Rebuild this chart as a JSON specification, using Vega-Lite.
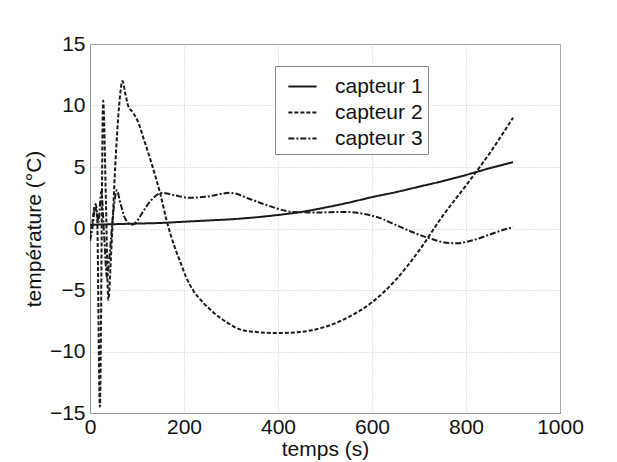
{
  "$schema": "https://vega.github.io/schema/vega-lite/v6.json",
  "width": 470,
  "height": 369,
  "autosize": "none",
  "padding": {"left": 90, "top": 44, "right": 57, "bottom": 49},
  "background": "white",
  "config": {
    "font": "Liberation Sans",
    "view": {"stroke": "#999999", "strokeWidth": 1},
    "axis": {
      "labelFont": "Liberation Sans",
      "titleFont": "Liberation Sans",
      "labelFontSize": 21,
      "titleFontSize": 21,
      "labelColor": "#111111",
      "titleColor": "#111111",
      "titleFontWeight": "normal",
      "domainColor": "#999999",
      "ticks": false,
      "gridColor": "#c8c8c8",
      "gridDash": [1, 2],
      "gridWidth": 1
    }
  },
  "data": {
    "values": [
      {"t": 0, "v": 0.3, "s": "capteur 1"},
      {"t": 50, "v": 0.35, "s": "capteur 1"},
      {"t": 100, "v": 0.4, "s": "capteur 1"},
      {"t": 150, "v": 0.45, "s": "capteur 1"},
      {"t": 200, "v": 0.55, "s": "capteur 1"},
      {"t": 250, "v": 0.65, "s": "capteur 1"},
      {"t": 300, "v": 0.75, "s": "capteur 1"},
      {"t": 350, "v": 0.9, "s": "capteur 1"},
      {"t": 400, "v": 1.1, "s": "capteur 1"},
      {"t": 450, "v": 1.35, "s": "capteur 1"},
      {"t": 500, "v": 1.7, "s": "capteur 1"},
      {"t": 550, "v": 2.1, "s": "capteur 1"},
      {"t": 600, "v": 2.55, "s": "capteur 1"},
      {"t": 650, "v": 2.95, "s": "capteur 1"},
      {"t": 700, "v": 3.4, "s": "capteur 1"},
      {"t": 750, "v": 3.85, "s": "capteur 1"},
      {"t": 800, "v": 4.35, "s": "capteur 1"},
      {"t": 850, "v": 4.9, "s": "capteur 1"},
      {"t": 900, "v": 5.4, "s": "capteur 1"},

      {"t": 0, "v": -0.5, "s": "capteur 2"},
      {"t": 5, "v": 0.5, "s": "capteur 2"},
      {"t": 10, "v": 1.8, "s": "capteur 2"},
      {"t": 15, "v": 1.0, "s": "capteur 2"},
      {"t": 21, "v": -14.5, "s": "capteur 2"},
      {"t": 28, "v": 10.4, "s": "capteur 2"},
      {"t": 34, "v": 2, "s": "capteur 2"},
      {"t": 39, "v": -5.8, "s": "capteur 2"},
      {"t": 45, "v": -2, "s": "capteur 2"},
      {"t": 55, "v": 6, "s": "capteur 2"},
      {"t": 62, "v": 10, "s": "capteur 2"},
      {"t": 69, "v": 12, "s": "capteur 2"},
      {"t": 75, "v": 11.0, "s": "capteur 2"},
      {"t": 81, "v": 10.0, "s": "capteur 2"},
      {"t": 92, "v": 9.4, "s": "capteur 2"},
      {"t": 102, "v": 8.7, "s": "capteur 2"},
      {"t": 115, "v": 7.2, "s": "capteur 2"},
      {"t": 131, "v": 5.3, "s": "capteur 2"},
      {"t": 149, "v": 2.9, "s": "capteur 2"},
      {"t": 164, "v": 0.5, "s": "capteur 2"},
      {"t": 180, "v": -1.5, "s": "capteur 2"},
      {"t": 191, "v": -2.6, "s": "capteur 2"},
      {"t": 205, "v": -4, "s": "capteur 2"},
      {"t": 219, "v": -5, "s": "capteur 2"},
      {"t": 240, "v": -6, "s": "capteur 2"},
      {"t": 262, "v": -6.8, "s": "capteur 2"},
      {"t": 290, "v": -7.6, "s": "capteur 2"},
      {"t": 319, "v": -8.2, "s": "capteur 2"},
      {"t": 350, "v": -8.4, "s": "capteur 2"},
      {"t": 400, "v": -8.5, "s": "capteur 2"},
      {"t": 450, "v": -8.4, "s": "capteur 2"},
      {"t": 500, "v": -8.0, "s": "capteur 2"},
      {"t": 550, "v": -7.2, "s": "capteur 2"},
      {"t": 600, "v": -6.0, "s": "capteur 2"},
      {"t": 650, "v": -4.2, "s": "capteur 2"},
      {"t": 700, "v": -1.8, "s": "capteur 2"},
      {"t": 750, "v": 1.0, "s": "capteur 2"},
      {"t": 800, "v": 3.5, "s": "capteur 2"},
      {"t": 850, "v": 6.1, "s": "capteur 2"},
      {"t": 900, "v": 9.0, "s": "capteur 2"},

      {"t": 0, "v": -1, "s": "capteur 3"},
      {"t": 5, "v": 0, "s": "capteur 3"},
      {"t": 12, "v": 2, "s": "capteur 3"},
      {"t": 18, "v": 0.5, "s": "capteur 3"},
      {"t": 24, "v": 3, "s": "capteur 3"},
      {"t": 30, "v": -0.5, "s": "capteur 3"},
      {"t": 36, "v": -4, "s": "capteur 3"},
      {"t": 42, "v": -2, "s": "capteur 3"},
      {"t": 50, "v": 1.5, "s": "capteur 3"},
      {"t": 57, "v": 3.1, "s": "capteur 3"},
      {"t": 65, "v": 2, "s": "capteur 3"},
      {"t": 75, "v": 0.8, "s": "capteur 3"},
      {"t": 89, "v": 0.3, "s": "capteur 3"},
      {"t": 100, "v": 0.6, "s": "capteur 3"},
      {"t": 110, "v": 1.2, "s": "capteur 3"},
      {"t": 130, "v": 2.3, "s": "capteur 3"},
      {"t": 155, "v": 2.9, "s": "capteur 3"},
      {"t": 180, "v": 2.7, "s": "capteur 3"},
      {"t": 213, "v": 2.5, "s": "capteur 3"},
      {"t": 250, "v": 2.6, "s": "capteur 3"},
      {"t": 298, "v": 2.9, "s": "capteur 3"},
      {"t": 340, "v": 2.4, "s": "capteur 3"},
      {"t": 376, "v": 1.9, "s": "capteur 3"},
      {"t": 432, "v": 1.35, "s": "capteur 3"},
      {"t": 480, "v": 1.3, "s": "capteur 3"},
      {"t": 546, "v": 1.35, "s": "capteur 3"},
      {"t": 580, "v": 1.2, "s": "capteur 3"},
      {"t": 617, "v": 0.85, "s": "capteur 3"},
      {"t": 650, "v": 0.3, "s": "capteur 3"},
      {"t": 700, "v": -0.5, "s": "capteur 3"},
      {"t": 723, "v": -0.8, "s": "capteur 3"},
      {"t": 750, "v": -1.1, "s": "capteur 3"},
      {"t": 780, "v": -1.2, "s": "capteur 3"},
      {"t": 810, "v": -1.0, "s": "capteur 3"},
      {"t": 850, "v": -0.5, "s": "capteur 3"},
      {"t": 880, "v": -0.1, "s": "capteur 3"},
      {"t": 900, "v": 0.1, "s": "capteur 3"}
    ]
  },
  "mark": {"type": "line", "color": "#1a1a1a", "strokeWidth": 2, "interpolate": "monotone", "clip": true},
  "encoding": {
    "x": {
      "field": "t", "type": "quantitative",
      "scale": {"domain": [0, 1000], "nice": false},
      "axis": {"values": [0, 200, 400, 600, 800, 1000], "format": "d", "title": "temps (s)", "labelPadding": 3, "titlePadding": 1, "grid": true, "labelFlush": false}
    },
    "y": {
      "field": "v", "type": "quantitative",
      "scale": {"domain": [-15, 15], "nice": false},
      "axis": {"values": [-15, -10, -5, 0, 5, 10, 15], "format": "d", "title": "température (°C)", "labelPadding": 5, "titlePadding": 5, "grid": true, "labelFlush": false}
    },
    "strokeDash": {
      "field": "s", "type": "nominal",
      "scale": {"domain": ["capteur 1", "capteur 2", "capteur 3"], "range": [[1, 0], [4, 2], [6, 2, 2, 2]]},
      "legend": {
        "title": null,
        "orient": "none",
        "legendX": 185,
        "legendY": 22,
        "strokeColor": "#888888",
        "fillColor": "white",
        "padding": 5,
        "symbolType": "stroke",
        "symbolSize": 800,
        "symbolOffset": 7,
        "symbolStrokeWidth": 2,
        "symbolStrokeColor": "#1a1a1a",
        "labelFontSize": 21,
        "labelFont": "Liberation Sans",
        "labelColor": "#111111",
        "labelExpr": "datum.label + '         '",
        "rowPadding": 0,
        "labelOffset": 17
      }
    }
  }
}
